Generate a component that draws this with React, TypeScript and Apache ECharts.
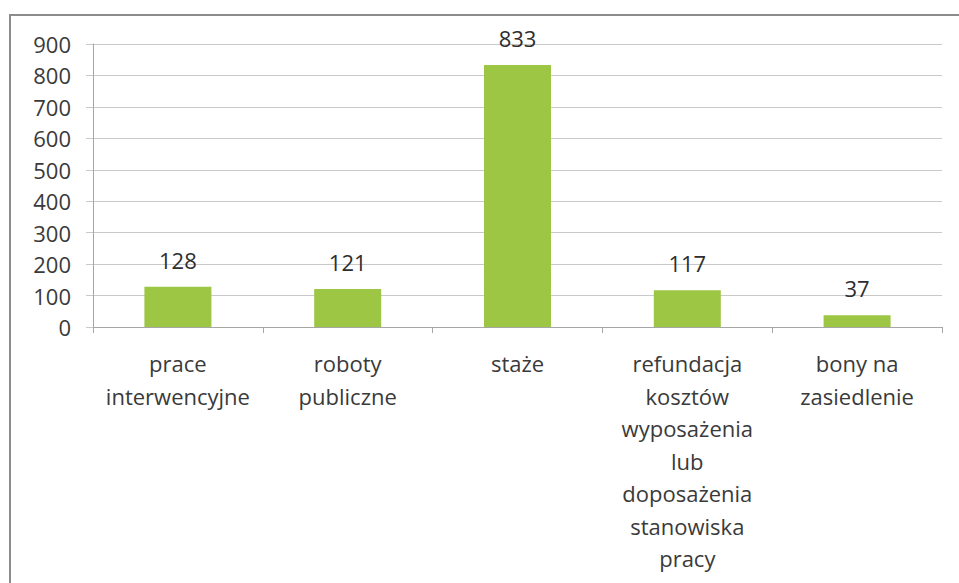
import React, { useEffect, useRef } from "react";
import * as echarts from "echarts";

const categories = [
  "prace\ninterwencyjne",
  "roboty\npubliczne",
  "staże",
  "refundacja\nkosztów\nwyposażenia\nlub\ndoposażenia\nstanowiska\npracy",
  "bony na\nzasiedlenie",
];
const values = [128, 121, 833, 117, 37];
const yTicks = { min: 0, max: 900, interval: 100 };

export default function App() {
  const ref = useRef<HTMLDivElement>(null);
  useEffect(() => {
    if (!ref.current) return;
    const chart = echarts.init(ref.current, null, { renderer: "svg" });
    const font = "'Open Sans', 'Noto Sans', sans-serif";
    chart.setOption({
      animation: false,
      backgroundColor: "#ffffff",
      grid: { left: 93, top: 44, right: 17, bottom: 256, containLabel: false },
      graphic: [
        {
          type: "rect",
          shape: { x: 10, y: 15, width: 980, height: 600 },
          style: { fill: "none", stroke: "#8c8c8c", lineWidth: 2 },
          silent: true,
        },
      ],
      xAxis: {
        type: "category",
        data: categories,
        axisLine: { show: true, lineStyle: { color: "#a6a6a6", width: 1 } },
        axisTick: { show: true, alignWithLabel: false, length: 6, lineStyle: { color: "#a6a6a6" } },
        axisLabel: {
          interval: 0,
          margin: 20,
          fontFamily: font,
          fontSize: 22,
          lineHeight: 32.5,
          color: "#3a3a3a",
        },
      },
      yAxis: {
        type: "value",
        min: yTicks.min,
        max: yTicks.max,
        interval: yTicks.interval,
        axisLine: { show: true, lineStyle: { color: "#a6a6a6", width: 1 } },
        axisTick: { show: true, length: 7, inside: false, lineStyle: { color: "#c9c9c9" } },
        splitLine: { show: true, lineStyle: { color: "#c9c9c9", width: 1 } },
        axisLabel: {
          margin: 22,
          fontFamily: font,
          fontSize: 22,
          color: "#3a3a3a",
        },
      },
      series: [
        {
          type: "bar",
          data: values,
          barWidth: 67,
          itemStyle: { color: "#9cc644" },
          label: {
            show: true,
            position: "top",
            distance: 16,
            fontFamily: font,
            fontSize: 22,
            color: "#2e2e2e",
          },
        },
      ],
    });
    return () => chart.dispose();
  }, []);
  return (
    <div
      ref={ref}
      style={{ position: "fixed", left: 0, top: 0, width: 959, height: 583 }}
    />
  );
}
